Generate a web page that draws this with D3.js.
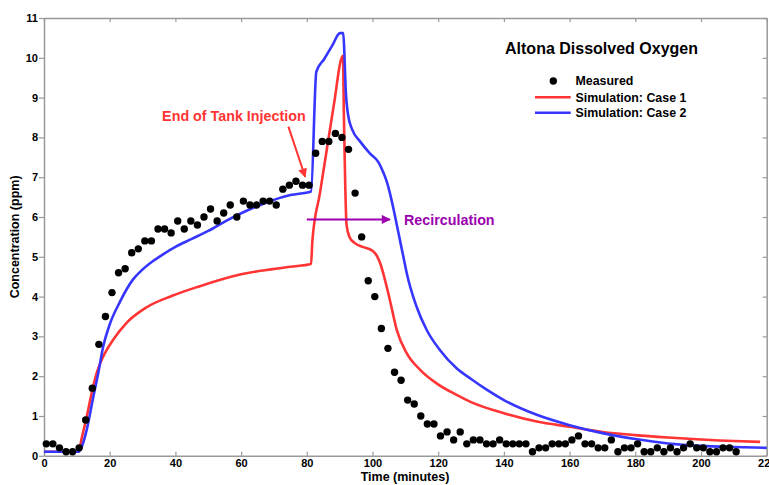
<!DOCTYPE html>
<html>
<head>
<meta charset="utf-8">
<script src="https://cdn.jsdelivr.net/npm/d3@7"></script>
<style>
  html, body { margin: 0; padding: 0; background: #fff; }
  svg { display: block; font-family: "Liberation Sans", Arial, Helvetica, sans-serif; }
</style>
</head>
<body>
<svg id="chart" width="769" height="485"></svg>
<script>
// Measured dissolved oxygen (ppm) at Altona, sampled every 2 minutes
const measuredTime = [
  0.7, 2.7, 4.7, 6.7, 8.7, 10.7, 12.7, 14.7, 16.7, 18.7,
  20.7, 22.7, 24.7, 26.7, 28.7, 30.7, 32.7, 34.7, 36.7, 38.7,
  40.7, 42.7, 44.7, 46.7, 48.7, 50.7, 52.7, 54.7, 56.7, 58.7,
  60.7, 62.7, 64.7, 66.7, 68.7, 70.7, 72.7, 74.7, 76.7, 78.7,
  80.7, 82.7, 84.7, 86.7, 88.7, 90.7, 92.7, 94.7, 96.7, 98.7,
  100.7, 102.7, 104.7, 106.7, 108.7, 110.7, 112.7, 114.7, 116.7, 118.7,
  120.7, 122.7, 124.7, 126.7, 128.7, 130.7, 132.7, 134.7, 136.7, 138.7,
  140.7, 142.7, 144.7, 146.7, 148.7, 150.7, 152.7, 154.7, 156.7, 158.7,
  160.7, 162.7, 164.7, 166.7, 168.7, 170.7, 172.7, 174.7, 176.7, 178.7,
  180.7, 182.7, 184.7, 186.7, 188.7, 190.7, 192.7, 194.7, 196.7, 198.7,
  200.7, 202.7, 204.7, 206.7, 208.7, 210.7
];
const measuredValue = [
  0.3, 0.3, 0.2, 0.1, 0.1, 0.2, 0.9, 1.7, 2.8, 3.5,
  4.1, 4.6, 4.7, 5.1, 5.2, 5.4, 5.4, 5.7, 5.7, 5.6,
  5.9, 5.7, 5.9, 5.8, 6.0, 6.2, 5.9, 6.1, 6.3, 6.0,
  6.4, 6.3, 6.3, 6.4, 6.4, 6.3, 6.7, 6.8, 6.9, 6.8,
  6.8, 7.6, 7.9, 7.9, 8.1, 8.0, 7.7, 6.6, 5.5, 4.4,
  4.0, 3.2, 2.7, 2.1, 1.9, 1.4, 1.3, 1.0, 0.8, 0.8,
  0.5, 0.6, 0.4, 0.6, 0.3, 0.4, 0.4, 0.3, 0.3, 0.4,
  0.3, 0.3, 0.3, 0.3, 0.1, 0.2, 0.2, 0.3, 0.3, 0.3,
  0.4, 0.5, 0.3, 0.3, 0.2, 0.2, 0.4, 0.1, 0.2, 0.2,
  0.3, 0.1, 0.1, 0.2, 0.1, 0.2, 0.1, 0.2, 0.3, 0.2,
  0.2, 0.1, 0.1, 0.2, 0.2, 0.1
];

// Simulation, Case 1
const case1Time = [
  0, 10.5, 11.5, 13, 14.5, 16, 18, 21, 25, 31, 39, 47, 60, 75, 81.3, 81.7,
  84, 86.5, 88.5, 90.4, 91, 91.3, 91.7, 92.1, 93, 94.5, 97, 100, 101.5, 102.5, 103.8, 105.3,
  107.4, 110.4, 114.5, 119.5, 125.6, 130, 140, 150, 160, 170, 180, 190, 200, 210, 218
];
const case1Value = [
  0.1, 0.1, 0.45, 0.98, 1.57, 2.07, 2.49, 2.91, 3.33, 3.72, 4.02, 4.25, 4.56, 4.75, 4.82, 5.4,
  6.6, 7.91, 8.96, 9.95, 10.05, 8.5, 6.8, 5.8, 5.5, 5.35, 5.25, 5.15, 5.0, 4.8, 4.42, 3.91,
  3.16, 2.58, 2.16, 1.82, 1.53, 1.35, 1.07, 0.86, 0.73, 0.6, 0.52, 0.46, 0.41, 0.37, 0.35
];

// Simulation, Case 2
const case2Time = [
  0, 10.5, 11.5, 13, 15, 16.5, 18, 20, 23, 27, 30, 33, 36, 40, 45, 50, 56, 62, 67, 75, 81.3,
  82.9, 85.3, 87.7, 90.1, 91.1, 91.4, 91.8, 92.6, 93.8, 96.2, 99.2, 101.8, 103.3, 104.3, 105.3, 106.4,
  107.4, 108.4, 109.9, 110.4, 113.4, 116.5, 120.5, 125.6, 130, 135, 140, 150, 160, 170,
  180, 190, 200, 210, 220
];
const case2Value = [
  0.1, 0.1, 0.23, 0.65, 1.48, 2.07, 2.74, 3.3, 3.85, 4.42, 4.68, 4.88, 5.05, 5.25, 5.45, 5.65, 5.93, 6.17, 6.34, 6.55, 6.64,
  9.65, 9.97, 10.3, 10.62, 10.62, 10.2, 9.27, 8.55, 8.2, 7.9, 7.6, 7.38, 7.12, 6.9, 6.6, 6.2,
  5.8, 5.4, 4.8, 4.6, 3.75, 3.16, 2.66, 2.2, 1.93, 1.65, 1.4, 1.03, 0.77, 0.57,
  0.42, 0.31, 0.25, 0.22, 0.2
];

const xTicks = [0, 20, 40, 60, 80, 100, 120, 140, 160, 180, 200, 220];
const yTicks = [0, 1, 2, 3, 4, 5, 6, 7, 8, 9, 10, 11];

const chartTitle = "Altona Dissolved Oxygen";
const legendLabels = ["Measured", "Simulation: Case 1", "Simulation: Case 2"];

const RED = "#ff3434";
const BLUE = "#3636ff";
const PURPLE = "#9c00b0";
const FRAME = "#999999";

const svg = d3.select("#chart");
const plotLeft = 44, plotRight = 766.7, plotTop = 18, plotBottom = 455.8;

const x = d3.scaleLinear().domain([0, 220]).range([plotLeft, plotRight]);
const y = d3.scaleLinear().domain([0, 11]).range([plotBottom, plotTop]);

// Axes: labelled bottom/left, plain ticks on top/right
function styleAxis(g) {
  g.select(".domain").attr("stroke", FRAME).attr("stroke-width", 1.5);
  g.selectAll(".tick line").attr("stroke", FRAME).attr("stroke-width", 1.2);
  g.selectAll(".tick text")
    .attr("fill", "#000")
    .attr("font-weight", "bold")
    .attr("font-size", 11)
    .attr("font-family", "'Liberation Sans', Arial, sans-serif");
}

svg.append("g")
  .attr("transform", `translate(0,${plotBottom})`)
  .call(d3.axisBottom(x).tickValues(xTicks).tickSizeInner(-4).tickSizeOuter(0).tickPadding(3.5))
  .call(styleAxis);

svg.append("g")
  .attr("transform", `translate(0,${plotTop})`)
  .call(d3.axisTop(x).tickValues(xTicks).tickSizeInner(-4).tickSizeOuter(0).tickFormat(""))
  .call(styleAxis);

svg.append("g")
  .attr("transform", `translate(${plotLeft},0)`)
  .call(d3.axisLeft(y).tickValues(yTicks).tickSizeInner(5).tickSizeOuter(0).tickPadding(1))
  .call(styleAxis);

svg.append("g")
  .attr("transform", `translate(${plotRight},0)`)
  .call(d3.axisRight(y).tickValues(yTicks).tickSizeInner(-4).tickSizeOuter(0).tickFormat(""))
  .call(styleAxis);

// Axis titles
svg.append("text")
  .attr("x", 405).attr("y", 481)
  .attr("text-anchor", "middle")
  .attr("font-weight", "bold").attr("font-size", 12.5)
  .text("Time (minutes)");

svg.append("text")
  .attr("transform", `translate(19,${(plotTop + plotBottom) / 2}) rotate(-90)`)
  .attr("text-anchor", "middle")
  .attr("font-weight", "bold").attr("font-size", 12.5)
  .text("Concentration (ppm)");

// Simulation curves
const line = d3.line()
  .x(d => x(d[0]))
  .y(d => y(d[1]))
  .curve(d3.curveMonotoneX);

const case1 = case1Time.map((t, i) => [t, case1Value[i]]);
const case2 = case2Time.map((t, i) => [t, case2Value[i]]);

svg.append("path").datum(case1)
  .attr("d", line).attr("fill", "none")
  .attr("stroke", RED).attr("stroke-width", 2.6).attr("stroke-linejoin", "round");

svg.append("path").datum(case2)
  .attr("d", line).attr("fill", "none")
  .attr("stroke", BLUE).attr("stroke-width", 2.6).attr("stroke-linejoin", "round");

// Measured points
svg.append("g").selectAll("circle")
  .data(measuredTime.map((t, i) => [t, measuredValue[i]]))
  .join("circle")
  .attr("cx", d => x(d[0]))
  .attr("cy", d => y(d[1]))
  .attr("r", 3.7)
  .attr("fill", "#000");

// Arrowheads
const defs = svg.append("defs");
function marker(id, color) {
  defs.append("marker")
    .attr("id", id)
    .attr("viewBox", "0 0 10 10")
    .attr("refX", 9).attr("refY", 5)
    .attr("markerUnits", "userSpaceOnUse")
    .attr("markerWidth", 11).attr("markerHeight", 9)
    .attr("orient", "auto")
    .append("path").attr("d", "M0,0L10,5L0,10Z").attr("fill", color);
}
marker("arrowRed", RED);
marker("arrowPurple", PURPLE);

// Annotation: end of tank injection
svg.append("text")
  .attr("x", x(57.8)).attr("y", y(8.4))
  .attr("text-anchor", "middle")
  .attr("font-weight", "bold").attr("font-size", 14.3)
  .attr("fill", RED)
  .text("End of Tank Injection");

svg.append("line")
  .attr("x1", x(74.4)).attr("y1", y(8.27))
  .attr("x2", x(79.5)).attr("y2", y(7.01))
  .attr("stroke", RED).attr("stroke-width", 2)
  .attr("marker-end", "url(#arrowRed)");

// Annotation: recirculation
svg.append("line")
  .attr("x1", x(80)).attr("y1", y(5.94))
  .attr("x2", x(105.3)).attr("y2", y(5.94))
  .attr("stroke", PURPLE).attr("stroke-width", 2)
  .attr("marker-end", "url(#arrowPurple)");

svg.append("text")
  .attr("x", x(109.6)).attr("y", y(5.94)).attr("dy", "0.36em")
  .attr("font-weight", "bold").attr("font-size", 14.3)
  .attr("fill", PURPLE)
  .text("Recirculation");

// Title and legend
svg.append("text")
  .attr("x", 601.5).attr("y", 54)
  .attr("text-anchor", "middle")
  .attr("font-weight", "bold").attr("font-size", 16)
  .text(chartTitle);

const legend = svg.append("g");
const legendY = [81, 97.3, 112.7];
legend.append("circle").attr("cx", 553.3).attr("cy", legendY[0]).attr("r", 3.7).attr("fill", "#000");
legend.append("line").attr("x1", 535).attr("x2", 570.7).attr("y1", legendY[1]).attr("y2", legendY[1])
  .attr("stroke", RED).attr("stroke-width", 2.6);
legend.append("line").attr("x1", 535).attr("x2", 570.7).attr("y1", legendY[2]).attr("y2", legendY[2])
  .attr("stroke", BLUE).attr("stroke-width", 2.6);
legend.selectAll("text")
  .data(legendLabels)
  .join("text")
  .attr("x", 575.5)
  .attr("y", (d, i) => legendY[i])
  .attr("dy", "0.36em")
  .attr("font-weight", "bold").attr("font-size", 12.4)
  .text(d => d);
</script>
</body>
</html>
